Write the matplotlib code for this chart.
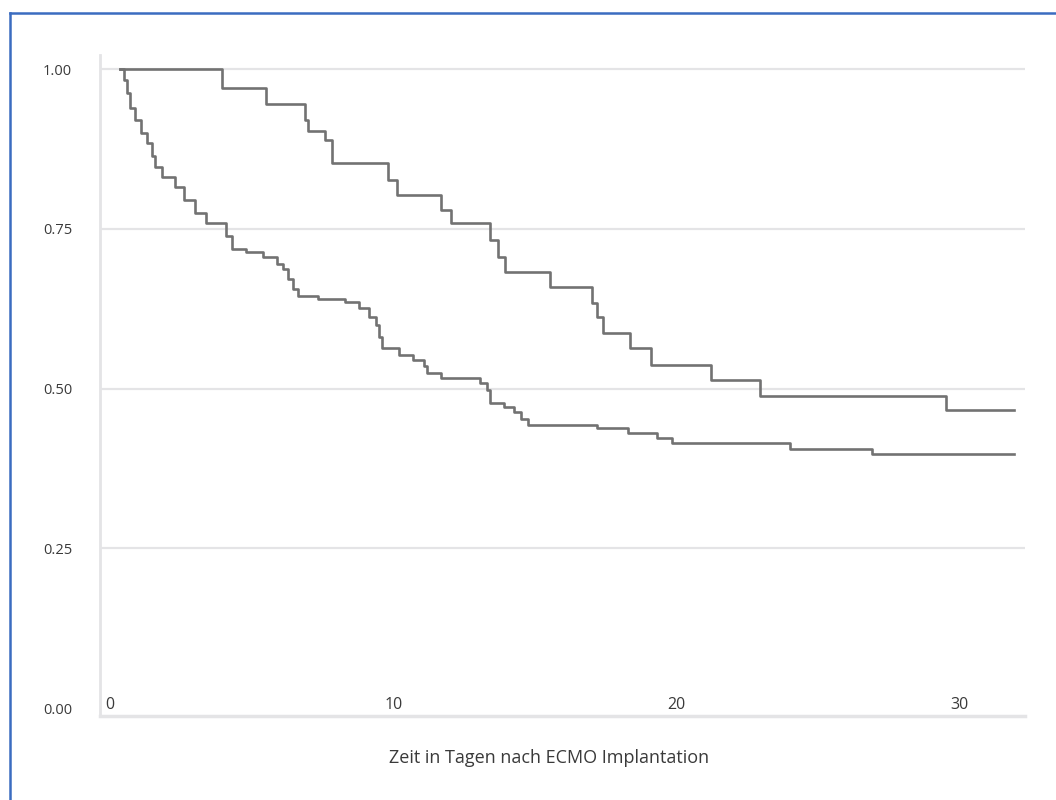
import matplotlib
matplotlib.use("Agg")
import matplotlib.pyplot as plt
from matplotlib.lines import Line2D

# Kaplan-Meier style survival curves (days after ECMO implantation)
upper_t = [0.35, 3.96, 5.5, 6.9, 7.0, 7.6, 7.85, 9.8, 10.15, 11.7, 12.05, 13.4,
           13.7, 13.95, 15.55, 17.0, 17.2, 17.4, 18.35, 19.1, 21.2, 22.95, 29.5, 31.9]
upper_s = [1.0, 0.971, 0.945, 0.920, 0.903, 0.889, 0.853, 0.826, 0.803, 0.779, 0.759, 0.733,
           0.706, 0.682, 0.659, 0.634, 0.612, 0.587, 0.563, 0.537, 0.514, 0.488, 0.466, 0.466]

lower_t = [0.35, 0.5, 0.62, 0.7, 0.9, 1.1, 1.3, 1.5, 1.6, 1.85, 2.3, 2.6, 3.0, 3.4,
           4.1, 4.3, 4.8, 5.4, 5.9, 6.1, 6.3, 6.45, 6.65, 7.35, 8.3, 8.8, 9.15, 9.4,
           9.5, 9.6, 10.2, 10.7, 11.1, 11.2, 11.7, 13.05, 13.3, 13.4, 13.9, 14.25,
           14.5, 14.75, 17.2, 18.3, 19.3, 19.85, 24.0, 26.9, 31.9]
lower_s = [1.0, 0.983, 0.963, 0.939, 0.920, 0.900, 0.884, 0.864, 0.847, 0.831, 0.815,
           0.795, 0.775, 0.759, 0.738, 0.718, 0.713, 0.706, 0.695, 0.687, 0.672, 0.656,
           0.645, 0.640, 0.635, 0.626, 0.612, 0.600, 0.581, 0.563, 0.553, 0.545, 0.536,
           0.525, 0.517, 0.508, 0.497, 0.477, 0.471, 0.463, 0.453, 0.443, 0.438, 0.431,
           0.423, 0.415, 0.405, 0.397, 0.397]

x_ticks = [0, 10, 20, 30]
y_ticks = [0.00, 0.25, 0.50, 0.75, 1.00]
y_labels = ["0.00", "0.25", "0.50", "0.75", "1.00"]
x_title = "Zeit in Tagen nach ECMO Implantation"

plt.rcParams['font.family'] = ['Open Sans', 'DejaVu Sans']

fig = plt.figure(figsize=(10.56, 8), dpi=100)
fig.patch.set_facecolor('white')
ax = fig.add_axes([100/1056, 1 - 716/800, 925/1056, 661/800])

line_col = '#727272'
ax.step(upper_t, upper_s, where='post', color=line_col, linewidth=1.9)
ax.step(lower_t, lower_s, where='post', color=line_col, linewidth=1.9)

ax.set_xlim(-0.35, 32.3)
ax.set_ylim(-0.0125, 1.022)

# grid lines (no line at 0, the axis sits just below it)
for v in y_ticks[1:]:
    ax.axhline(v, color='#e4e4e6', linewidth=1.6, zorder=0)

for side in ['top', 'right']:
    ax.spines[side].set_visible(False)
ax.spines['left'].set_color('#e4e4e6')
ax.spines['left'].set_linewidth(2)
ax.spines['bottom'].set_color('#e4e4e6')
ax.spines['bottom'].set_linewidth(2.5)

ax.set_yticks(y_ticks)
ax.set_yticklabels(y_labels)
ax.set_xticks(x_ticks)
ax.tick_params(axis='y', length=0, pad=20, labelsize=10.5, labelcolor='#3a3a3a')
ax.tick_params(axis='x', length=0, pad=-14, labelsize=11.5, labelcolor='#3a3a3a')

ax.set_xlabel(x_title, fontsize=13, color='#3a3a3a')
ax.xaxis.set_label_coords(0.486, -0.064)
ax.xaxis.label.set_va('center')

# blue frame (top and left edge)
fig.add_artist(Line2D([10/1056, 1], [1 - 13/800, 1 - 13/800], color='#3b6cc0', linewidth=1.8))
fig.add_artist(Line2D([10/1056, 10/1056], [0, 1 - 13/800], color='#3b6cc0', linewidth=1.8))

fig.savefig('out.png', dpi=100, facecolor='white')
